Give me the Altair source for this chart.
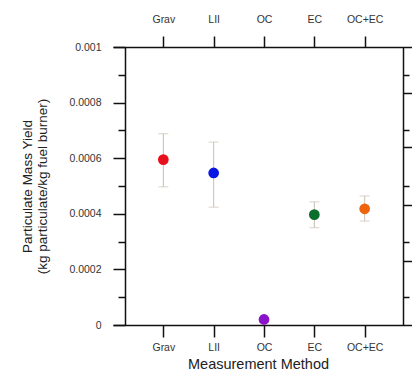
import altair as alt
import pandas as pd

# Measurement methods and particulate mass yields (kg particulate / kg fuel burned)
methods = ["Grav", "LII", "OC", "EC", "OC+EC"]
yields = [0.000595, 0.000547, 0.00002, 0.000397, 0.000418]
err_low = [0.000497, 0.000424, None, 0.00035, 0.000374]
err_high = [0.000688, 0.000658, None, 0.000443, 0.000464]
colors = ["#e8101c", "#0c16e4", "#8a12c8", "#0b6e2a", "#ee640c"]

# Tick positions for the left and right frame axes
left_ticks = [round(i * 0.0001, 4) for i in range(11)]
right_long = [0.00023, 0.00043, 0.00064, 0.000835]
right_short = [0.0001, 0.0003, 0.0005, 0.0007, 0.0009]

df = pd.DataFrame({"method": methods, "value": yields, "lo": err_low, "hi": err_high})
err_df = df.dropna()

FONT = "Liberation Sans"
AX = "#111111"
ERR = "#c8bfb0"

x_scale = alt.Scale(type="point", domain=methods, padding=1.283)
y_scale = alt.Scale(domain=[0, 0.001], nice=False, zero=True)

odd = "round(datum.value * 10000) % 2 == 1"

left_axis = alt.Axis(
    orient="left", values=left_ticks, offset=-12, grid=False,
    labelExpr=f"{odd} ? '' : (datum.value == 0 ? '0' : format(datum.value, '.4~f'))",
    tickSize={"condition": {"test": odd, "value": 7}, "value": 12},
    labelPadding=12, labelFontSize=10.5, labelFont=FONT, labelColor="#333333",
    title=["Particulate Mass Yield", "(kg particulate/kg fuel burner)"],
    titleFont=FONT, titleFontSize=13.5, titleFontWeight="normal", titleColor="#222222",
    titlePadding=19, titleLineHeight=15,
)
right_axis = alt.Axis(
    orient="right", values=right_long + right_short, offset=-12, grid=False,
    labels=False, title=None,
    tickSize={"condition": {"test": f"indexof({right_long}, datum.value) >= 0", "value": 10}, "value": 6},
)
bottom_axis = alt.Axis(
    orient="bottom", grid=False, tickSize=12, labelPadding=5, labelAngle=0,
    labelFontSize=10.5, labelFont=FONT, labelColor="#333333",
    title="Measurement Method", titleFont=FONT, titleFontSize=14.5,
    titleFontWeight="normal", titleColor="#222222", titlePadding=5,
    titleX=145,
)
top_axis = alt.Axis(
    orient="top", grid=False, tickSize=11, labelPadding=12, labelAngle=0,
    labelFontSize=10.5, labelFont=FONT, labelColor="#333333", title=None,
)

base = alt.Chart(err_df)

bars = base.mark_rule(color=ERR, strokeWidth=1).encode(
    x=alt.X("method:N", scale=x_scale, axis=bottom_axis),
    y=alt.Y("lo:Q", scale=y_scale, axis=left_axis),
    y2="hi:Q",
)
caps_lo = base.mark_tick(color=ERR, size=10, thickness=1).encode(
    x=alt.X("method:N", scale=x_scale, axis=None),
    y=alt.Y("lo:Q", scale=y_scale, axis=None),
)
caps_hi = base.mark_tick(color=ERR, size=10, thickness=1).encode(
    x=alt.X("method:N", scale=x_scale, axis=None),
    y=alt.Y("hi:Q", scale=y_scale, axis=None),
)
points = alt.Chart(df).mark_circle(size=115, opacity=1).encode(
    x=alt.X("method:N", scale=x_scale, axis=top_axis),
    y=alt.Y("value:Q", scale=y_scale, axis=right_axis),
    color=alt.Color("method:N", scale=alt.Scale(domain=methods, range=colors), legend=None),
)

chart = (
    alt.layer(bars, caps_lo, caps_hi, points)
    .resolve_axis(x="independent", y="independent")
    .properties(
        width=302, height=278,
        autosize=alt.AutoSizeParams(type="none"),
        padding={"left": 113, "top": 47, "right": -3, "bottom": 46},
        background="white",
    )
    .configure_view(stroke=None)
    .configure_axis(domainColor=AX, tickColor=AX, domainWidth=1.5, tickWidth=1.5)
)

chart.save("out.html", embed_options={"renderer": "svg", "actions": False})
